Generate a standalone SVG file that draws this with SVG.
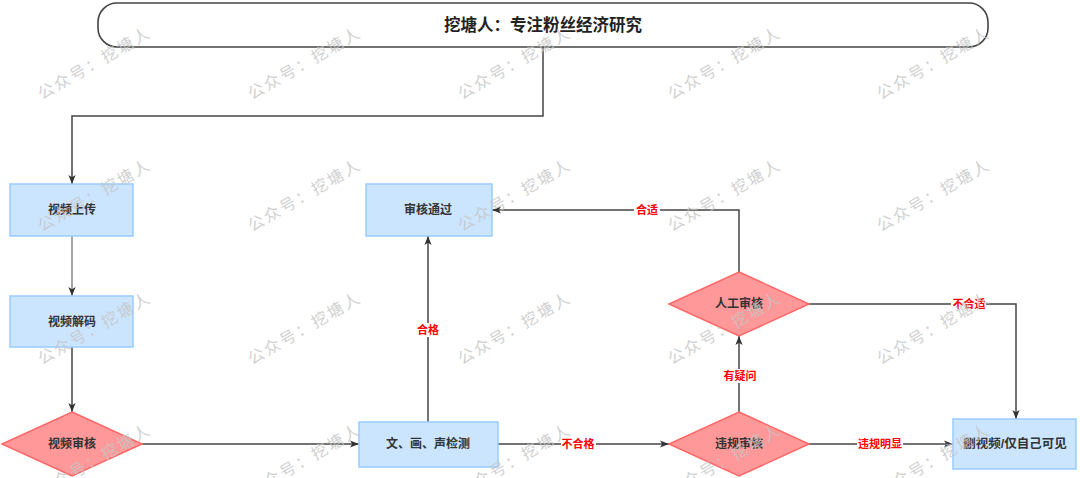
<svg xmlns="http://www.w3.org/2000/svg" width="1080" height="478" viewBox="0 0 1080 478">
<style>
  .box { fill: #cce5ff; stroke: #99ccff; stroke-width: 1.5; }
  .dia { fill: #ff9999; stroke: #ff6666; stroke-width: 1.5; }
  .lbl { font-family: "Liberation Sans", "Noto Sans CJK SC", sans-serif; font-weight: bold; font-size: 12px; fill: #333333; text-anchor: middle; dominant-baseline: central; }
  .title { font-size: 16.5px; fill: #222222; }
  .edge { fill: none; stroke: #444444; stroke-width: 1.5; }
  .edge.light { stroke: #888888; }
  .elbl { font-family: "Liberation Sans", "Noto Sans CJK SC", sans-serif; font-weight: bold; font-size: 11px; fill: #ff0000; text-anchor: middle; dominant-baseline: central; }
  .wm { font-family: "Noto Sans CJK SC", sans-serif; font-size: 16px; letter-spacing: 2.3px; fill: #c4c4c4; fill-opacity: 0.8; }
</style>
<defs>
  <marker id="arr" viewBox="0 0 10 10" refX="10" refY="5" markerWidth="9" markerHeight="9" orient="auto" markerUnits="userSpaceOnUse">
    <path d="M0,1 L10,5 L0,9 L2.5,5 z" fill="#333333"/>
  </marker>
</defs>
<rect width="1080" height="478" fill="#ffffff"/>

<g id="title">
  <rect x="98" y="3" width="890" height="44" rx="19" ry="19" fill="#ffffff" stroke="#444444" stroke-width="1.6"/>
  <text class="lbl title" x="543" y="25">挖塘人：专注粉丝经济研究</text>
</g>

<g id="connectors">
  <path class="edge" d="M543,47 V116 H72 V184" marker-end="url(#arr)"/>
  <path class="edge light" d="M72,236 V296" marker-end="url(#arr)"/>
  <path class="edge" d="M72,347 V412" marker-end="url(#arr)"/>
  <path class="edge" d="M142,444 H359" marker-end="url(#arr)"/>
  <path class="edge" d="M428,422 V236" marker-end="url(#arr)"/>
  <path class="edge" d="M498,444 H669" marker-end="url(#arr)"/>
  <path class="edge" d="M739,412 V336" marker-end="url(#arr)"/>
  <path class="edge" d="M739,272 V210 H492" marker-end="url(#arr)"/>
  <path class="edge" d="M809,304 H1016 V419" marker-end="url(#arr)"/>
  <path class="edge" d="M809,444 H953" marker-end="url(#arr)"/>
  <g id="edge-labels">
    <rect x="415" y="323" width="26" height="14" fill="#ffffff"/>
    <text class="elbl" x="428" y="330">合格</text>
    <rect x="561" y="437" width="35" height="14" fill="#ffffff"/>
    <text class="elbl" x="578" y="444">不合格</text>
    <rect x="722" y="369" width="35" height="14" fill="#ffffff"/>
    <text class="elbl" x="740" y="376">有疑问</text>
    <rect x="634" y="203" width="26" height="14" fill="#ffffff"/>
    <text class="elbl" x="647" y="210">合适</text>
    <rect x="951" y="297" width="35" height="14" fill="#ffffff"/>
    <text class="elbl" x="969" y="304">不合适</text>
    <rect x="857" y="437" width="46" height="14" fill="#ffffff"/>
    <text class="elbl" x="880" y="444">违规明显</text>
  </g>
</g>

<g id="upload">
  <rect class="box" x="10" y="184" width="123" height="52"/>
  <text class="lbl" x="72" y="210">视频上传</text>
</g>
<g id="decode">
  <rect class="box" x="10" y="296" width="123" height="51"/>
  <text class="lbl" x="72" y="322">视频解码</text>
</g>
<g id="review">
  <polygon class="dia" points="72,412 142,444 72,476 2,444"/>
  <text class="lbl" x="72" y="444">视频审核</text>
</g>
<g id="detect">
  <rect class="box" x="359" y="422" width="139" height="45"/>
  <text class="lbl" x="428" y="444">文、画、声检测</text>
</g>
<g id="pass">
  <rect class="box" x="366" y="184" width="126" height="52"/>
  <text class="lbl" x="428" y="210">审核通过</text>
</g>
<g id="violation">
  <polygon class="dia" points="739,412 809,444 739,476 669,444"/>
  <text class="lbl" x="739" y="444">违规审核</text>
</g>
<g id="manual">
  <polygon class="dia" points="739,272 809,304 739,336 669,304"/>
  <text class="lbl" x="739" y="304">人工审核</text>
</g>
<g id="delete">
  <rect class="box" x="953" y="419" width="123" height="50"/>
  <text class="lbl" x="1015" y="444" style="font-size:12.5px">删视频/仅自己可见</text>
</g>

<g id="watermark">
  <text class="wm" transform="translate(42,100) rotate(-30)">公众号：挖塘人</text>
  <text class="wm" transform="translate(252,100) rotate(-30)">公众号：挖塘人</text>
  <text class="wm" transform="translate(462,100) rotate(-30)">公众号：挖塘人</text>
  <text class="wm" transform="translate(672,100) rotate(-30)">公众号：挖塘人</text>
  <text class="wm" transform="translate(881,100) rotate(-30)">公众号：挖塘人</text>
  <text class="wm" transform="translate(42,232) rotate(-30)">公众号：挖塘人</text>
  <text class="wm" transform="translate(252,232) rotate(-30)">公众号：挖塘人</text>
  <text class="wm" transform="translate(462,232) rotate(-30)">公众号：挖塘人</text>
  <text class="wm" transform="translate(672,232) rotate(-30)">公众号：挖塘人</text>
  <text class="wm" transform="translate(881,232) rotate(-30)">公众号：挖塘人</text>
  <text class="wm" transform="translate(42,365) rotate(-30)">公众号：挖塘人</text>
  <text class="wm" transform="translate(252,365) rotate(-30)">公众号：挖塘人</text>
  <text class="wm" transform="translate(462,365) rotate(-30)">公众号：挖塘人</text>
  <text class="wm" transform="translate(672,365) rotate(-30)">公众号：挖塘人</text>
  <text class="wm" transform="translate(881,365) rotate(-30)">公众号：挖塘人</text>
  <text class="wm" transform="translate(42,497) rotate(-30)">公众号：挖塘人</text>
  <text class="wm" transform="translate(252,497) rotate(-30)">公众号：挖塘人</text>
  <text class="wm" transform="translate(462,497) rotate(-30)">公众号：挖塘人</text>
  <text class="wm" transform="translate(672,497) rotate(-30)">公众号：挖塘人</text>
  <text class="wm" transform="translate(881,497) rotate(-30)">公众号：挖塘人</text>
</g>
</svg>
